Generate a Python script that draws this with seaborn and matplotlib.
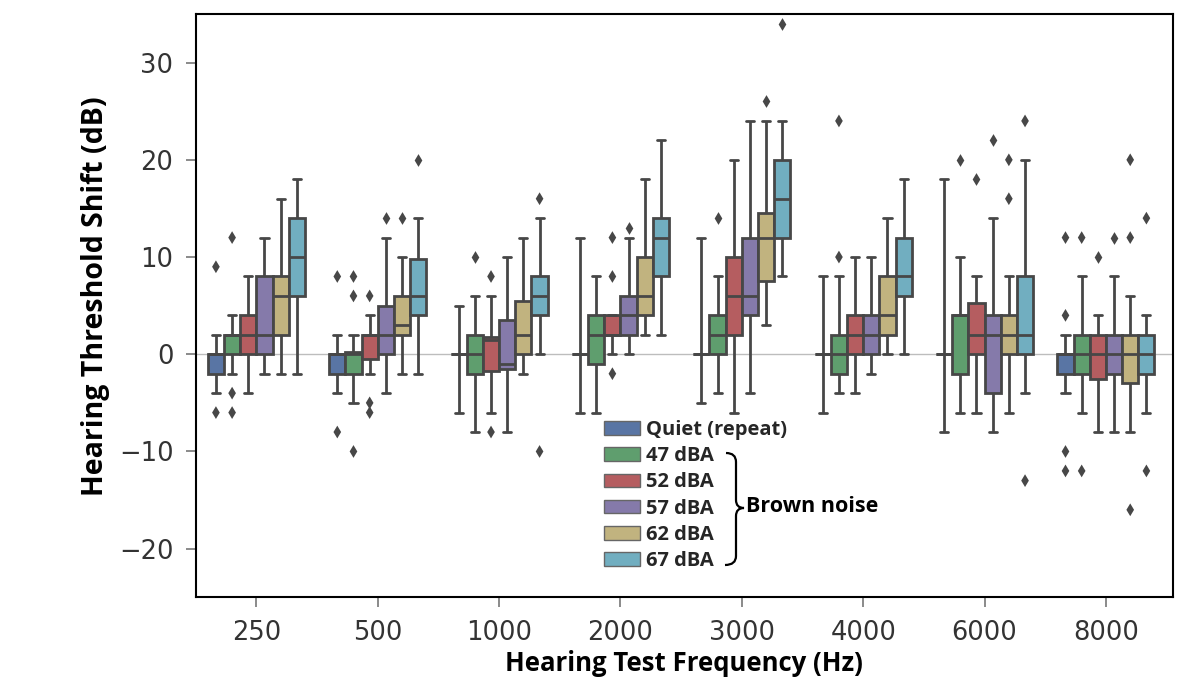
import numpy as np
import pandas as pd
import matplotlib
matplotlib.use("Agg")
import matplotlib.pyplot as plt
import seaborn as sns
from matplotlib.patches import Patch, PathPatch
from matplotlib.path import Path

# ---------------- data ----------------
frequencies = ["250", "500", "1000", "2000", "3000", "4000", "6000", "8000"]
conditions = ["Quiet (repeat)", "47 dBA", "52 dBA", "57 dBA", "62 dBA", "67 dBA"]
colors = ["#4C72B0", "#55A868", "#C44E52", "#8172B2", "#CCB974", "#64B5CD"]

# per frequency: (whisker low, Q1, median, Q3, whisker high)
quiet_box = [(-4, -2, 0, 0, 2), (-4, -2, 0, 0, 2), (-6, 0, 0, 0, 5), (-6, 0, 0, 0, 12),
             (-5, 0, 0, 0, 12), (-6, 0, 0, 0, 8), (-8, 0, 0, 0, 18), (-4, -2, 0, 0, 2)]
dba47_box = [(-2, 0, 2, 2, 4), (-5, -2, 0, 0.25, 2), (-8, -2, 0, 2, 6), (-6, -1, 2, 4, 8),
             (-4, 0, 2, 4, 8), (-4, -2, 0, 2, 8), (-6, -2, 4, 4, 10), (-6, -2, 0, 2, 8)]
dba52_box = [(-4, 0, 2, 4, 8), (-2, -0.5, 2, 2, 4), (-6, -1.75, 1.5, 1.75, 6), (0, 2, 2, 4, 4),
             (-6, 2, 6, 10, 20), (-4, 0, 2, 4, 10), (-6, 0, 2, 5.25, 8), (-8, -2.5, 0, 2, 4)]
dba57_box = [(-2, 0, 2, 8, 12), (-4, 0, 2, 5, 12), (-8, -1.5, -1, 3.5, 10), (0, 2, 4, 6, 12),
             (-4, 4, 6, 12, 24), (-2, 0, 2, 4, 10), (-8, -4, 2, 4, 14), (-8, -2, 0, 2, 8)]
dba62_box = [(-2, 2, 6, 8, 16), (-2, 2, 3, 6, 10), (-2, 0, 2, 5.5, 12), (2, 4, 6, 10, 18),
             (3, 7.5, 12, 14.5, 24), (0, 2, 4, 8, 14), (-6, 0, 2, 4, 8), (-8, -3, 0, 2, 6)]
dba67_box = [(-2, 6, 10, 14, 18), (-2, 4, 6, 9.75, 14), (0, 4, 6, 8, 14), (2, 8, 12, 14, 22),
             (8, 12, 16, 20, 24), (0, 6, 8, 12, 18), (-4, 0, 2, 8, 20), (-6, -2, 0, 2, 4)]

# outliers per frequency
quiet_fliers = [[9, -6], [8, -8], [], [], [], [], [], [4, 12, -10, -12]]
dba47_fliers = [[12, -4, -6], [8, 6, -10], [10], [], [14], [24, 10], [20], [12, -12]]
dba52_fliers = [[], [6, -5, -6], [8, -8], [12, 8, -2], [], [], [18], [10]]
dba57_fliers = [[], [14], [], [13], [], [], [22], [12]]
dba62_fliers = [[], [14], [], [], [26], [], [20, 16], [12, 20, -16]]
dba67_fliers = [[], [20], [16, -10], [], [34], [], [24, -13], [14, -12]]

boxes = [quiet_box, dba47_box, dba52_box, dba57_box, dba62_box, dba67_box]
fliers = [quiet_fliers, dba47_fliers, dba52_fliers, dba57_fliers, dba62_fliers, dba67_fliers]

rows = []
for cond, cb in zip(conditions, boxes):
    for f, stats in zip(frequencies, cb):
        for v in stats:
            rows.append((f, cond, v))
df = pd.DataFrame(rows, columns=["freq", "cond", "shift"])

frows = []
for cond, cf in zip(conditions, fliers):
    for f, vals in zip(frequencies, cf):
        for v in vals:
            frows.append((f, cond, v))
dff = pd.DataFrame(frows, columns=["freq", "cond", "shift"])

# ---------------- figure ----------------
W, H = 1196, 683
sns.set_theme(style="ticks")
plt.rcParams["font.family"] = ["DejaVu Sans"]
fig = plt.figure(figsize=(W / 100, H / 100), dpi=100)
ax = fig.add_axes([195.7 / W, 1 - 597.3 / H, (1172.7 - 195.7) / W, (597.3 - 14) / H])

line_col = "#474747"
ax.axhline(0, color="#bdbdbd", lw=1.0, zorder=0.5)

sns.boxplot(data=df, x="freq", y="shift", hue="cond", order=frequencies, hue_order=conditions,
            palette=colors, whis=(0, 100), showfliers=False, width=0.8, linewidth=2,
            linecolor=line_col, legend=False, ax=ax)
sns.stripplot(data=dff, x="freq", y="shift", hue="cond", order=frequencies, hue_order=conditions,
              palette=[line_col] * len(conditions), dodge=True, jitter=False, marker="d",
              size=6.5, linewidth=0, legend=False, ax=ax, zorder=3)

ax.set_xlim(-0.5, 7.55)
ax.set_ylim(-25, 35)
ax.set_yticks([-20, -10, 0, 10, 20, 30])

for s in ax.spines.values():
    s.set_color("black")
    s.set_linewidth(1.5)
ax.tick_params(axis="both", which="major", labelsize=18.5, labelcolor="#333333",
               color="#777777", length=7, width=1.2, pad=9)

ax.set_xlabel("Hearing Test Frequency (Hz)", family="Open Sans", weight="bold",
              size=18.5, color="black")
ax.set_ylabel("Hearing Threshold Shift (dB)", family="Open Sans", weight="bold",
              size=20.5, color="black")
ax.xaxis.set_label_coords(0.5, -0.09)
ax.yaxis.set_label_coords(-0.088, 0.517)

# legend
handles = [Patch(facecolor=sns.desaturate(c, 0.75), edgecolor="#666666", linewidth=1.0)
           for c in colors]
leg = ax.legend(handles, conditions, loc="upper left",
                bbox_to_anchor=(604 / W, 1 - 420 / H), bbox_transform=fig.transFigure,
                frameon=False, borderpad=0, borderaxespad=0,
                prop=dict(family="Open Sans", weight="bold", size=14.5),
                handlelength=1.8, handleheight=0.65, handletextpad=0.3, labelspacing=0.31)

# brace for "Brown noise"
def fp(x, y):
    return (x / W, 1 - y / H)

verts = [fp(726, 453), fp(736, 453), fp(736, 462),
         fp(736, 500),
         fp(736, 508), fp(744, 508),
         fp(736, 508), fp(736, 516),
         fp(736, 556),
         fp(736, 565), fp(725, 565)]
codes = [Path.MOVETO, Path.CURVE3, Path.CURVE3,
         Path.LINETO,
         Path.CURVE3, Path.CURVE3,
         Path.CURVE3, Path.CURVE3,
         Path.LINETO,
         Path.CURVE3, Path.CURVE3]
fig.add_artist(PathPatch(Path(verts, codes), transform=fig.transFigure, fill=False,
                         edgecolor="black", lw=1.6))
fig.text(746 / W, 1 - 507 / H, "Brown noise", family="Open Sans", weight="bold", size=15.5,
         ha="left", va="center", color="black")

fig.savefig("out.png", dpi=100)
